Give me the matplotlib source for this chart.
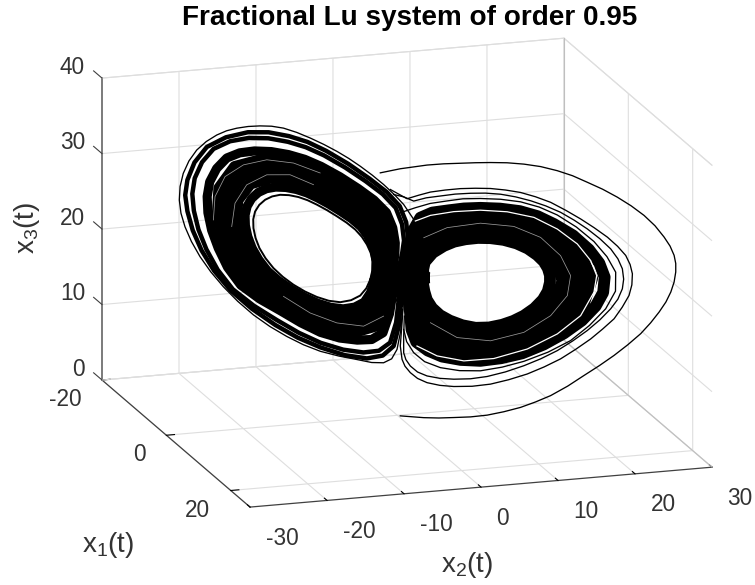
import numpy as np
import matplotlib
matplotlib.use("Agg")
import matplotlib.pyplot as plt
from mpl_toolkits.mplot3d import proj3d

plt.rcParams['font.family'] = ['Liberation Sans', 'DejaVu Sans']
plt.rcParams['mathtext.default'] = 'regular'
plt.rcParams['axes.unicode_minus'] = False

TITLE = "Fractional Lu system of order 0.95"
x1_ticks = [-20, 0, 20]
x2_ticks = [-30, -20, -10, 0, 10, 20, 30]
x3_ticks = [0, 10, 20, 30, 40]
x1_lim = (-20, 26)
x2_lim = (-30, 30)
x3_lim = (0, 40)

# Trajectory strands as (x2, x3); depth along the view is taken as x1 = x2.
left_ring = [(-2.48,17.30),(-2.84,16.04),(-3.40,14.92),(-4.24,14.07),(-5.23,13.53),(-6.28,13.43),(-7.37,13.63),(-8.46,14.05),(-9.52,14.66),(-10.49,15.43),(-11.35,16.35),(-12.07,17.45),(-12.63,18.64),(-12.99,19.89),(-13.18,21.13),(-13.20,22.30),(-13.03,23.38),(-12.65,24.36),(-12.11,25.19),(-11.47,25.81),(-10.74,26.23),(-9.92,26.41),(-9.06,26.40),(-8.22,26.21),(-7.37,25.86),(-6.45,25.39),(-5.54,24.83),(-4.65,24.23),(-3.86,23.54),(-3.25,22.74),(-2.79,21.85),(-2.45,20.87),(-2.27,19.79),(-2.29,18.57),(-2.48,17.30)]
left_a = [(-2.11,17.11),(-2.46,15.55),(-3.03,14.15),(-3.90,13.25),(-4.96,12.72),(-6.11,12.61),(-7.31,12.82),(-8.52,13.30),(-9.72,13.99),(-10.87,14.81),(-11.88,15.80),(-12.68,17.07),(-13.30,18.45),(-13.70,19.88),(-13.92,21.29),(-13.95,22.63),(-13.76,23.87),(-13.34,25.03),(-12.73,25.99),(-12.00,26.69),(-11.15,27.14),(-10.21,27.35),(-9.22,27.35),(-8.27,27.16),(-7.30,26.77),(-6.24,26.23),(-5.20,25.58),(-4.20,24.89),(-3.35,24.08),(-2.75,23.09),(-2.33,22.01),(-2.05,20.94),(-1.93,19.79),(-1.95,18.49),(-2.11,17.11)]
left_b = [(-1.67,16.87),(-2.59,13.23),(-4.63,11.75),(-7.24,11.84),(-9.96,13.18),(-12.51,15.15),(-14.10,18.23),(-14.80,21.47),(-14.64,24.46),(-13.47,26.96),(-11.65,28.23),(-9.41,28.49),(-7.22,27.87),(-4.78,26.47),(-2.75,24.72),(-1.78,22.21),(-1.53,19.78),(-1.67,16.87)]
left_c = [(-1.25,16.65),(-2.17,12.35),(-4.31,10.83),(-7.17,10.92),(-10.19,12.42),(-13.11,14.53),(-14.85,18.01),(-15.63,21.65),(-15.48,25.01),(-14.18,27.87),(-12.12,29.27),(-9.60,29.56),(-7.14,28.91),(-4.39,27.32),(-2.17,25.34),(-1.26,22.40),(-1.15,19.77),(-1.25,16.65)]
left_d = [(-0.84,16.44),(-1.76,11.48),(-4.00,9.91),(-7.11,10.01),(-10.42,11.66),(-13.71,13.91),(-15.60,17.80),(-16.46,21.83),(-16.31,25.56),(-14.88,28.78),(-12.58,30.30),(-9.78,30.63),(-7.07,29.94),(-4.01,28.16),(-1.60,25.95),(-0.74,22.58),(-0.77,19.77),(-0.84,16.44)]
left_e = [(-0.40,16.20),(-0.72,13.26),(-1.32,10.56),(-2.35,9.39),(-3.67,8.94),(-5.28,8.77),(-7.04,9.03),(-8.83,9.80),(-10.66,10.85),(-12.59,11.90),(-14.34,13.26),(-15.55,15.29),(-16.40,17.58),(-17.01,19.80),(-17.35,22.01),(-17.42,24.14),(-17.19,26.15),(-16.55,28.10),(-15.62,29.75),(-14.44,30.76),(-13.08,31.39),(-11.55,31.73),(-9.97,31.77),(-8.49,31.56),(-6.99,31.04),(-5.27,30.15),(-3.59,29.05),(-2.14,27.93),(-1.00,26.59),(-0.42,24.72),(-0.19,22.78),(-0.23,21.25),(-0.37,19.76),(-0.33,18.16),(-0.40,16.20)]
left_s1 = [(0.13,15.42),(-0.11,12.28),(-0.66,9.45),(-1.69,8.08),(-3.11,7.46),(-4.96,7.32),(-7.01,7.65),(-9.01,8.42),(-11.02,9.54),(-13.14,10.86),(-15.07,12.51),(-16.46,14.71),(-17.49,17.13),(-18.22,19.56),(-18.64,21.94),(-18.78,24.12),(-18.56,26.25),(-17.89,28.56),(-16.83,30.62),(-15.32,32.05),(-13.59,32.98),(-11.81,33.42),(-10.03,33.45),(-8.39,33.19),(-6.72,32.57),(-4.78,31.50),(-2.91,30.21),(-1.34,28.93),(-0.15,27.44),(0.43,25.43),(0.61,23.32),(0.44,21.58),(0.17,19.81),(0.17,17.77),(0.13,15.42)]
left_s2 = [(0.31,14.80),(0.12,11.77),(-0.34,9.08),(-1.34,7.54),(-2.79,6.76),(-4.81,6.63),(-7.04,7.04),(-9.12,7.75),(-11.18,8.86),(-13.32,10.41),(-15.27,12.30),(-16.78,14.49),(-17.93,16.86),(-18.74,19.30),(-19.23,21.70),(-19.43,23.77),(-19.23,25.83),(-18.58,28.34),(-17.45,30.70),(-15.70,32.47),(-13.69,33.70),(-11.79,34.22),(-9.93,34.23),(-8.23,33.93),(-6.51,33.22),(-4.49,32.06),(-2.54,30.64),(-0.96,29.30),(0.22,27.77),(0.81,25.81),(0.98,23.72),(0.73,21.86),(0.37,19.87),(0.34,17.46),(0.31,14.80)]
left_outer = [(0.48,14.17),(0.30,11.20),(-0.03,8.72),(-0.52,7.34),(-1.26,6.61),(-2.35,6.34),(-3.70,6.36),(-5.34,6.36),(-7.06,6.52),(-8.61,6.96),(-10.12,7.63),(-11.67,8.52),(-13.18,9.64),(-14.62,11.04),(-15.94,12.61),(-17.09,14.26),(-18.07,15.99),(-18.86,17.78),(-19.45,19.57),(-19.82,21.27),(-19.97,22.97),(-19.90,24.78),(-19.61,26.60),(-19.09,28.39),(-18.38,30.03),(-17.50,31.41),(-16.54,32.54),(-15.64,33.35),(-14.71,33.95),(-13.66,34.47),(-12.57,34.85),(-11.52,35.10),(-10.43,35.15),(-9.22,34.92),(-7.98,34.52),(-6.74,34.02),(-5.53,33.43),(-4.44,32.79),(-3.39,32.05),(-2.31,31.19),(-1.26,30.23),(-0.26,29.15),(0.58,28.09),(1.50,26.37)]

right_0 = [(2.42,18.90),(2.36,19.95),(2.51,21.01),(3.25,22.45),(4.25,23.62),(5.20,24.45),(6.24,25.06),(7.38,25.55),(8.53,25.84),(9.74,25.95),(10.92,25.81),(11.95,25.42),(12.81,24.79),(13.42,24.10),(13.79,23.30),(13.98,22.42),(13.98,21.50),(13.78,20.25),(13.33,19.02),(12.55,17.65),(11.59,16.41),(10.62,15.45),(9.60,14.66),(8.40,13.97),(7.16,13.58),(5.95,13.58),(4.80,13.88),(3.90,14.35),(3.18,15.10),(2.70,16.05),(2.48,17.07),(2.36,17.98),(2.42,18.90)]
right_1 = [(2.07,18.64),(2.16,21.28),(3.71,24.41),(5.86,25.91),(8.30,26.78),(11.00,26.90),(13.19,25.93),(14.73,24.19),(15.23,22.02),(14.54,19.14),(12.51,16.08),(10.06,13.84),(7.27,12.52),(4.62,12.64),(2.82,13.87),(2.16,16.17),(2.07,18.64)]
right_2 = [(1.73,18.38),(1.82,21.54),(3.18,25.20),(5.48,26.77),(8.07,27.72),(11.07,27.99),(13.58,27.06),(15.67,25.07),(16.49,22.54),(15.75,19.26),(13.43,15.76),(10.52,13.03),(7.39,11.46),(4.45,11.40),(2.46,12.65),(1.84,15.28),(1.73,18.38)]
right_3 = [(1.38,18.11),(1.47,21.81),(2.64,25.98),(5.09,27.62),(7.84,28.66),(11.15,29.08),(13.96,28.20),(16.61,25.96),(17.74,23.06),(16.95,19.38),(14.34,15.43),(10.98,12.21),(7.50,10.39),(4.27,10.16),(2.10,11.42),(1.51,14.38),(1.38,18.11)]
right_4 = [(1.04,17.85),(1.00,20.00),(1.13,22.07),(1.35,24.60),(2.11,26.77),(3.20,27.75),(4.71,28.47),(6.10,29.10),(7.61,29.60),(9.40,30.00),(11.22,30.17),(12.85,29.95),(14.34,29.33),(16.10,28.30),(17.55,26.84),(18.50,25.30),(18.99,23.58),(18.85,21.50),(18.16,19.50),(16.90,17.25),(15.26,15.10),(13.40,13.10),(11.44,11.39),(9.50,10.20),(7.61,9.33),(5.80,8.95),(4.10,8.92),(2.80,9.35),(1.74,10.19),(1.30,11.70),(1.19,13.48),(1.05,15.60),(1.04,17.85)]

right_t_c = [(0.27,26.91),(1.65,27.96),(3.00,28.90),(4.56,29.67),(6.00,30.35),(7.61,30.84),(9.45,31.25),(11.28,31.42),(13.00,31.20),(14.65,30.61),(16.40,29.50),(18.01,28.03),(19.20,26.35),(20.00,24.52),(19.98,22.00),(19.08,19.41),(17.60,16.80),(15.87,14.31),(13.80,12.20),(11.59,10.37),(9.60,9.05),(7.61,8.01),(5.70,7.50),(3.94,7.41),(2.50,7.80),(1.50,8.71),(0.85,10.00),(0.58,11.54)]
right_t_b = [(-0.34,29.16),(0.60,29.10),(1.50,28.80),(2.65,29.55),(3.94,30.15),(5.30,30.78),(6.70,31.28),(8.07,31.68),(9.45,31.92),(10.83,31.95),(12.20,31.82),(13.60,31.52),(14.95,31.05),(16.20,30.35),(17.40,29.53),(18.55,28.55),(19.54,27.48),(20.20,26.35),(20.61,25.14),(20.73,23.80),(20.61,22.49),(20.20,21.00),(19.54,19.54),(18.55,17.80),(17.40,16.07),(16.05,14.30),(14.65,12.64),(13.15,11.15),(11.59,9.79),(9.90,8.50),(8.23,7.43),(6.70,6.70),(5.17,6.22),(3.90,5.98),(2.72,5.97),(1.85,6.25),(1.19,6.86),(0.78,7.60),(0.58,8.45),(0.58,10.66),(0.64,13.32)]
right_t_a = [(-0.64,29.74),(0.89,28.94),(1.95,29.70),(3.03,30.42),(4.40,31.07),(5.78,31.64),(7.15,32.07),(8.53,32.42),(9.90,32.60),(11.28,32.66),(12.66,32.47),(14.04,32.12),(15.42,31.45),(16.79,30.68),(18.03,29.86),(19.24,28.95),(20.17,28.00),(20.92,26.99),(21.32,25.90),(21.53,24.73),(21.48,23.25),(21.22,21.77),(20.60,20.05),(19.85,18.30),(18.80,16.65),(17.71,15.04),(16.35,13.30),(14.95,11.63),(13.45,10.15),(11.90,8.78),(10.20,7.55),(8.53,6.50),(6.85,5.75),(5.17,5.25),(3.90,5.05),(2.72,5.08),(1.85,5.40),(1.19,5.98),(0.70,6.70),(0.43,7.53),(0.27,9.25),(0.43,12.38),(0.58,15.51)]
transient = [(-1.56,31.69),(0.27,32.74),(2.72,33.91),(4.25,34.50),(5.78,35.00),(7.15,35.45),(8.53,35.86),(10.05,36.25),(11.59,36.50),(13.12,36.60),(14.65,36.48),(16.05,36.20),(17.40,35.71),(18.80,35.18),(20.15,34.50),(21.42,33.70),(22.60,32.76),(23.60,31.67),(24.43,30.41),(24.98,29.36),(25.35,28.24),(25.50,27.20),(25.50,26.07),(25.35,24.70),(25.05,23.30),(24.60,21.85),(23.98,20.35),(23.20,18.70),(22.29,17.01),(21.10,15.20),(19.85,13.45),(18.50,11.72),(17.09,10.02),(15.60,8.20),(14.04,6.51),(12.65,5.28),(11.28,4.18),(9.75,3.18),(8.23,2.31),(6.70,1.65),(5.17,1.14),(3.80,0.70),(2.42,0.36),(0.27,0.0)]

# slits that stay open between the dense strands
right_slit_outer = [(1.65,26.20),(3.03,27.33),(5.17,28.42),(7.61,29.29),(10.06,29.76),(12.51,29.70),(14.65,28.75),(16.48,27.29),(17.71,25.42),(18.26,23.59),(18.01,21.32),(16.79,17.87),(14.65,14.85),(11.90,12.09),(8.84,9.98),(6.09,8.90),(3.64,8.88),(1.80,9.68)]
right_slit_inner = [(2.42,24.20),(4.56,26.13),(7.61,27.57),(10.67,27.99),(13.12,27.22),(14.95,25.31),(15.87,22.92),(15.57,20.18),(14.04,17.10),(11.59,14.21),(8.53,12.24),(5.47,11.82),(3.03,13.11)]
left_slit_1 = [(-16.85,21.20),(-16.70,24.33),(-15.78,27.24),(-14.10,29.26),(-11.96,30.53),(-9.51,30.78),(-7.07,30.14)]
left_slit_2 = [(-15.17,20.79),(-14.87,23.97),(-13.80,26.70),(-11.96,28.54),(-9.82,29.14),(-7.68,28.42)]
left_slit_3 = [(-1.26,12.79),(-3.09,10.95),(-5.54,10.70),(-7.99,11.34),(-10.43,12.86)]

fill_left = [left_b, left_c, left_d]
edge_left = [left_a, left_e]
fill_right = [right_1, right_2, right_3]
edge_right = [right_0, right_4]
medium = [left_s1, left_s2]
thin = [left_outer, right_t_c, right_t_b, right_t_a, transient]
slits = [right_slit_inner, left_slit_1, left_slit_2, left_slit_3]

fig = plt.figure(figsize=(7.55, 5.85), dpi=100)
ax = fig.add_axes([0, (1 - 755 / 585) / 2, 1, 755 / 585], projection='3d', proj_type='ortho')
ax.view_init(elev=15.8, azim=-17.6)
ax.set_xlim(*x1_lim); ax.set_ylim(*x2_lim); ax.set_zlim(*x3_lim)
ax.set_xticks(x1_ticks); ax.set_yticks(x2_ticks); ax.set_zticks(x3_ticks)
ax.xaxis.set_ticklabels([]); ax.yaxis.set_ticklabels([]); ax.zaxis.set_ticklabels([])
aspect = (490, 485, 314)
ax.set_box_aspect(aspect)
ax.patch.set_alpha(0)

grid_c = (0.87, 0.87, 0.87)
dark = (0.25, 0.25, 0.25)
for axis in (ax.xaxis, ax.yaxis, ax.zaxis):
    axis.pane.set_facecolor((1, 1, 1, 0))
    axis.pane.set_edgecolor((1, 1, 1, 0))
    axis.line.set_color(dark)
    axis.line.set_linewidth(0.9)
    axis._axinfo['grid'].update(color=grid_c, linewidth=0.8)
    axis._axinfo['tick'].update(inward_factor=0.0, outward_factor=0.22, color=dark,
                                linewidth={True: 0.8, False: 0.8})
ax.zaxis._axinfo['tick'].update(outward_factor=0.0)
ax.zaxis.set_ticks_position('lower')
ax.zaxis.line.set_color((0.45, 0.45, 0.45))
ax.zaxis.line.set_linewidth(1.3)

x1lo, x1hi = x1_lim; x2lo, x2hi = x2_lim; x3lo, x3hi = x3_lim
ax.plot([x1lo, x1lo], [x2lo, x2hi], [x3hi, x3hi], color=grid_c, lw=0.8)
ax.plot([x1lo, x1hi], [x2hi, x2hi], [x3hi, x3hi], color=grid_c, lw=0.8)
ax.plot([x1lo, x1lo], [x2lo, x2hi], [x3lo, x3lo], color=grid_c, lw=0.8)
ax.plot([x1lo, x1hi], [x2hi, x2hi], [x3lo, x3lo], color=(0.75, 0.75, 0.75), lw=0.8)
ax.plot([x1lo, x1lo], [x2hi, x2hi], [x3lo, x3hi], color=(0.75, 0.75, 0.75), lw=0.8)
for t in x3_ticks:
    ax.plot([x1lo - 2.6, x1lo], [x2lo, x2lo], [t, t], color=dark, lw=0.8)

def draw(strand, lw, color='black'):
    pts = np.array(strand)
    ax.plot(pts[:, 0], pts[:, 0], pts[:, 1], color=color, lw=lw, solid_joinstyle='round')

for s in fill_left:
    draw(s, 8.5)
for s in edge_left:
    draw(s, 6.6)
for s in fill_right:
    draw(s, 10.0)
for s in edge_right:
    draw(s, 8.5)
for s in medium:
    draw(s, 3.2)
draw(left_ring, 1.4)
draw(right_slit_outer, 0.9, 'white')
for s in slits:
    draw(s, 0.55, (0.6, 0.6, 0.6))
for s in thin:
    draw(s, 0.95)

def screen(x, y, z):
    fig.canvas.draw()
    xp, yp, _ = proj3d.proj_transform(x, y, z, ax.M)
    return ax.transData.transform((xp, yp))

p0 = screen(-20, -30, 0); p1 = screen(26, 30, 0)
ax.set_box_aspect(aspect, zoom=(712 - 102) / (p1[0] - p0[0]))
p0 = screen(-20, -30, 0)
pos = ax.get_position(original=True)
ax.set_position([pos.x0 + (102 - p0[0]) / 755, pos.y0 + ((585 - 380) - p0[1]) / 585, pos.width, pos.height])
fig.canvas.draw()

tick_fs = 16.3
tick_c = (0.2, 0.2, 0.2)

def tick_text(x, y, z, dx, dy, s, ha):
    xp, yp, _ = proj3d.proj_transform(x, y, z, ax.M)
    px, py = ax.transData.transform((xp, yp))
    fig.text((px + dx) / 755, (py - dy) / 585, s, ha=ha, va='center', fontsize=tick_fs, color=tick_c)

for t in x3_ticks:
    tick_text(x1lo, x2lo, t, -17, -11, str(t), 'right')
for t in x1_ticks:
    tick_text(t, x2lo, x3lo, -20.5, 19.5, str(t), 'right')
for t in x2_ticks:
    tick_text(x1hi, t, x3lo, 15.5, 31, str(t), 'left')

fig.text(409.5 / 755, 1 - 18 / 585, TITLE, ha='center', va='center', fontsize=20.1, fontweight='bold', color='black')
label_c = (0.2, 0.2, 0.2)
fig.text(108.5 / 755, 1 - 545 / 585, r'$x_1$(t)', ha='center', va='center', fontsize=20, color=label_c)
fig.text(467.5 / 755, 1 - 565 / 585, r'$x_2$(t)', ha='center', va='center', fontsize=20, color=label_c)
fig.text(27 / 755, 1 - 228 / 585, r'$x_3$(t)', ha='center', va='center', rotation=90, fontsize=20, color=label_c)

fig.savefig('out.png', dpi=100)
